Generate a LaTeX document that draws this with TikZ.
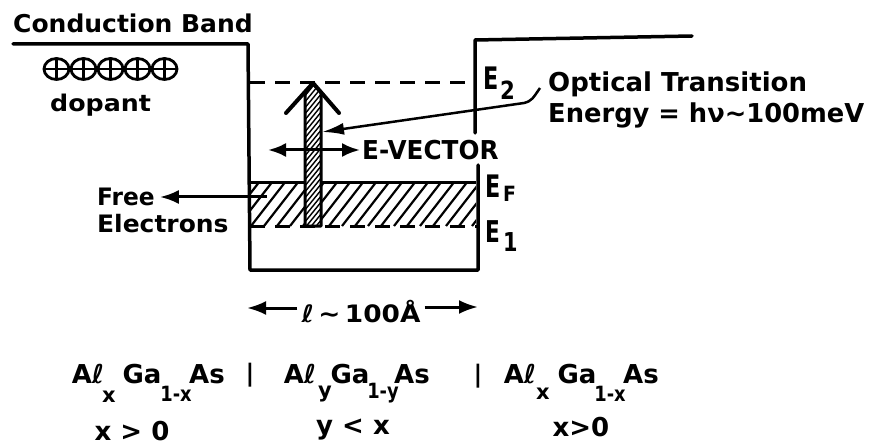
\documentclass[tikz,border=0pt]{standalone}
\usepackage{graphicx}
\usepackage{fontspec}
\setmainfont{DejaVu Sans}
\usetikzlibrary{arrows.meta}
\newcommand\fsz[1]{\fontsize{#1}{#1}\selectfont\bfseries}
\newcommand\sx[2]{\scalebox{#1}[1]{#2}}
\begin{document}
\begin{tikzpicture}[x=1pt,y=-1pt,
  band/.style={line width=3.5pt, line join=round, line cap=round},
  lvl/.style={line width=3pt, dash pattern=on 15pt off 10pt},
  txt/.style={inner sep=0pt, anchor=base west},
  ctxt/.style={inner sep=0pt, anchor=base},
  tip/.style={-{Latex[length=19pt,width=14pt]}},
  dtip/.style={{Latex[length=18pt,width=14pt]}-{Latex[length=18pt,width=14pt]}},
  main/.style={font=\fsz{26}},
  subs/.style={font=\fsz{21}}]
\useasboundingbox (0,0) rectangle (882,446);

% band edges
\coordinate (cbL) at (13,44);
\coordinate (wTL) at (248,44);
\coordinate (wBL) at (250,270);
\coordinate (wBR) at (478,270);
\coordinate (wRg1) at (478,165);
\coordinate (wRg2) at (475,133);
\coordinate (wTR) at (475,40);
\coordinate (cbR) at (692,36);

% hatched free-electron region
\begin{scope}
  \clip (250,183) rectangle (476,226);
  \foreach \i in {0,...,21} \draw[line width=2.2pt] (212+13*\i,226) -- ++(35,-45);
\end{scope}
\draw[line width=3pt] (250,183) -- (476,183);
\draw[lvl] (250,83) -- (475,83);
\draw[lvl] (250,226) -- (477,226);

\draw[band] (cbL) -- (wTL) -- (wBL) -- (wBR) -- (wRg1);
\draw[band] (wRg2) -- (wTR) -- (cbR);

% transition bar
\path[fill=white] (305,226) -- (305,92) -- (313,84) -- (321,92) -- (321,226) -- cycle;
\begin{scope}
  \clip (305,226) -- (305,92) -- (313,84) -- (321,92) -- (321,226) -- cycle;
  \foreach \i in {0,...,32} \draw[line width=1.4pt] (300,258-6*\i) -- ++(26,-32);
\end{scope}
\draw[line width=3pt, line join=round] (305,226) -- (305,92) -- (313,84) -- (321,92) -- (321,226) -- cycle;
\draw[line width=4pt, line cap=round, line join=round] (286,113) -- (313,83) -- (339,113);

% dopants
\foreach \k in {0,...,4} {
  \draw[line width=2.8pt] (56.5+27*\k,69) ellipse [x radius=12.5, y radius=10.5];
  \draw[line width=2.2pt] (44+27*\k,69) -- (69+27*\k,69);
  \draw[line width=2.2pt] (56.5+27*\k,58.5) -- (56.5+27*\k,79.5);
}

% texts
\node[txt, font=\fsz{24.5}] (cb) at (13,33) {\sx{1.02}{Conduction Band}};
\node[txt, font=\fsz{23}] (dop) at (50,112) {\sx{1.1}{dopant}};
\node[txt, font=\fsz{24}] (free) at (97,205) {\sx{0.97}{Free}};
\node[txt, font=\fsz{24}] (elec) at (97,233) {\sx{1.04}{Electrons}};
\node[txt, font=\fsz{26}] (ev) at (362,160) {\sx{0.95}{E-VECTOR}};
\node[txt, font=\fsz{26}] (opt) at (548,92) {\sx{1.0}{Optical Transition}};
\node[txt, font=\fsz{26}] (energy) at (548,123) {\sx{0.99}{Energy = hν∼100meV}};

\node[txt, font=\fsz{31}] (e2) at (483,90) {\sx{0.72}{E}};
\node[txt, font=\fsz{25}] (e2s) at (500,100) {\sx{0.85}{2}};
\node[txt, font=\fsz{31}] (ef) at (485,198) {\sx{0.72}{E}};
\node[txt, font=\fsz{21}] (efs) at (503,201) {\sx{0.9}{F}};
\node[txt, font=\fsz{30}] (e1) at (485,242) {\sx{0.72}{E}};
\node[txt, font=\fsz{26}] (e1s) at (503,251) {\sx{0.8}{1}};

% arrows
\coordinate (evL) at (268,150);
\draw[line width=3pt, dtip] (evL) -- ([xshift=-2pt]ev.west |- evL);
\coordinate (fe) at (267,197);
\draw[line width=3pt, tip] (fe) -- ([xshift=5pt]free.east |- fe);
\coordinate (bartip) at (322,132);
\draw[line width=2.5pt, -{Latex[length=22pt,width=12pt]}] ([shift={(-8,-4)}]opt.base west) .. controls (533,98) and (532,101) .. (524,103) -- (bartip);

% length
\node[ctxt, font=\fsz{24}] (len) at (361,322) {\sx{1.1}{ℓ\,∼\,100Å}};
\coordinate (lenL) at (247,308);
\coordinate (lenR) at (478,307);
\coordinate (lA) at ([xshift=-4pt]len.west);
\coordinate (lB) at ([xshift=4pt]len.east);
\draw[line width=3pt, tip] (lA |- lenL) -- (lenL);
\draw[line width=3pt, tip] (lB |- lenR) -- (lenR);

% compositions
\node[ctxt, main] (a1) at (88,383) {Aℓ};
\node[ctxt, subs] (a1x) at (109,402) {x};
\node[ctxt, main] (a1g) at (142,383) {Ga};
\node[ctxt, subs] (a1gx) at (176,401) {\sx{0.85}{1-x}};
\node[ctxt, main] (a1a) at (207,383) {As};
\node[ctxt, font=\fsz{24}] (bar1) at (250,381) {|};
\node[ctxt, main] (b1) at (300,383) {Aℓ};
\node[ctxt, subs] (b1y) at (325,397) {y};
\node[ctxt, main] (b1g) at (350,383) {Ga};
\node[ctxt, subs] (b1gy) at (383,398) {\sx{0.85}{1-y}};
\node[ctxt, main] (b1a) at (412,383) {As};
\node[ctxt, font=\fsz{24}] (bar2) at (478,382) {|};
\node[ctxt, main] (c1) at (520,383) {Aℓ};
\node[ctxt, subs] (c1x) at (543,399) {x};
\node[ctxt, main] (c1g) at (577,383) {Ga};
\node[ctxt, subs] (c1gx) at (610,401) {\sx{0.85}{1-x}};
\node[ctxt, main] (c1a) at (641,383) {As};

\node[ctxt, main] (r1) at (132,440) {x > 0};
\node[ctxt, main] (r2) at (353,434) {y < x};
\node[ctxt, main] (r3) at (581,436) {x>0};
\end{tikzpicture}
\end{document}
